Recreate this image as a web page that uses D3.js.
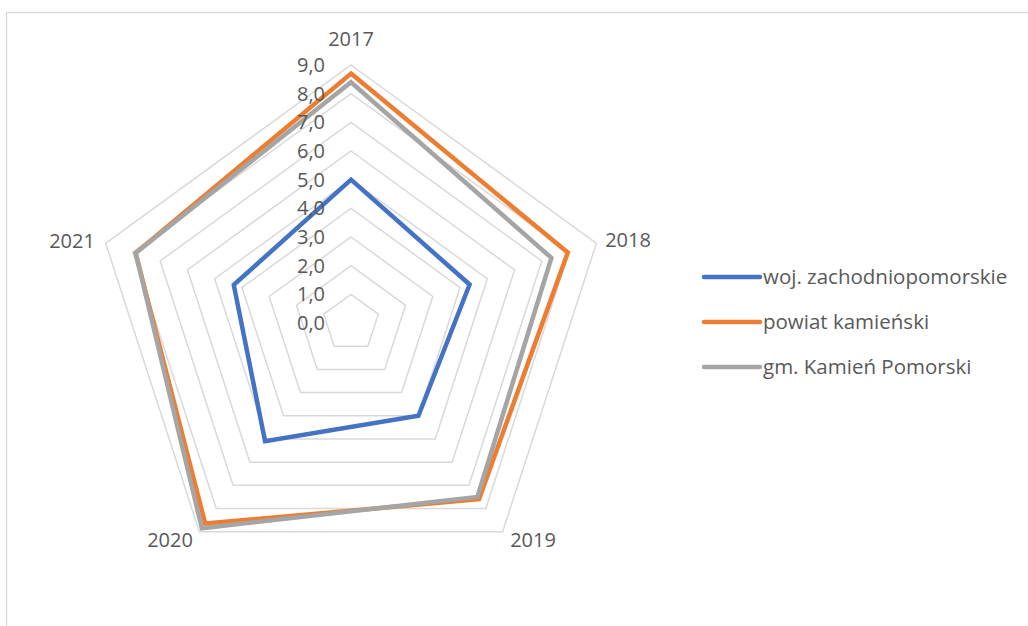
<!DOCTYPE html>
<html>
<head>
<meta charset="utf-8">
<script src="https://d3js.org/d3.v7.min.js"></script>
<style>
  body { margin: 0; background: #fff; }
  text { font-family: "Open Sans", sans-serif; fill: #595959; }
</style>
</head>
<body>
<svg width="1028" height="626"></svg>
<script>
// categories (axes of the radar)
var years = ["2017", "2018", "2019", "2020", "2021"];
// ring labels
var ticks = [0, 1, 2, 3, 4, 5, 6, 7, 8, 9];
// series values
var woj = [5.0, 4.35, 4.0, 5.1, 4.3];
var powiat = [8.7, 7.95, 7.6, 8.65, 7.9];
var gmina = [8.4, 7.35, 7.5, 8.85, 7.9];

var seriesNames = ["woj. zachodniopomorskie", "powiat kamieński", "gm. Kamień Pomorski"];
var seriesColors = ["#4472c4", "#ed7d31", "#a5a5a5"];
var seriesValues = [woj, powiat, gmina];

var svg = d3.select("svg");
var cx = 351, cy = 323;

// outer frame (chart area border)
svg.append("path")
  .attr("d", "M6.5,626 L6.5,12.5 L1028,12.5")
  .attr("fill", "none")
  .attr("stroke", "#d9d9d9")
  .attr("stroke-width", 1.3);

var r = d3.scaleLinear().domain([0, 9]).range([0, 258]);
var angle = d3.scalePoint().domain(years).range([0, 2 * Math.PI * 4 / 5]);

var g = svg.append("g").attr("transform", "translate(" + cx + "," + cy + ")");

var radial = d3.lineRadial()
  .angle(function (d) { return angle(d.k); })
  .radius(function (d) { return r(d.v); })
  .curve(d3.curveLinearClosed);

// grid rings
g.selectAll(".ring")
  .data(ticks.filter(function (t) { return t > 0; }))
  .enter()
  .append("path")
  .attr("d", function (t) { return radial(years.map(function (k) { return { k: k, v: t }; })); })
  .attr("fill", "none")
  .attr("stroke", "#d9d9d9")
  .attr("stroke-width", 1.5);

// series
seriesValues.forEach(function (vals, i) {
  g.append("path")
    .attr("d", radial(years.map(function (k, j) { return { k: k, v: vals[j] }; })))
    .attr("fill", "none")
    .attr("stroke", seriesColors[i])
    .attr("stroke-width", 4.5)
    .attr("stroke-linejoin", "miter");
});

// tick labels
g.selectAll(".tick")
  .data(ticks)
  .enter()
  .append("text")
  .attr("x", -26)
  .attr("y", function (t) { return -r(t); })
  .attr("dy", "0.35em")
  .attr("text-anchor", "end")
  .style("font-size", "20px")
  .text(function (t) { return d3.format(".1f")(t).replace(".", ","); });

// category labels
var labelPos = {
  "2017": [0, -284, "middle"],
  "2018": [277, -83, "middle"],
  "2019": [182, 217, "middle"],
  "2020": [-181, 217, "middle"],
  "2021": [-279, -82, "middle"]
};
g.selectAll(".cat")
  .data(years)
  .enter()
  .append("text")
  .attr("x", function (d) { return labelPos[d][0]; })
  .attr("y", function (d) { return labelPos[d][1]; })
  .attr("dy", "0.35em")
  .attr("text-anchor", function (d) { return labelPos[d][2]; })
  .style("font-size", "20px")
  .text(function (d) { return d; });

// legend
var legend = svg.append("g").attr("transform", "translate(704,277)");
seriesNames.forEach(function (name, i) {
  var row = legend.append("g").attr("transform", "translate(0," + (i * 45) + ")");
  row.append("line")
    .attr("x1", 0).attr("x2", 56)
    .attr("stroke", seriesColors[i])
    .attr("stroke-width", 4.5)
    .attr("stroke-linecap", "round");
  row.append("text")
    .attr("x", 59)
    .attr("dy", "0.35em")
    .style("font-size", "20.5px")
    .text(name);
});
</script>
</body>
</html>
